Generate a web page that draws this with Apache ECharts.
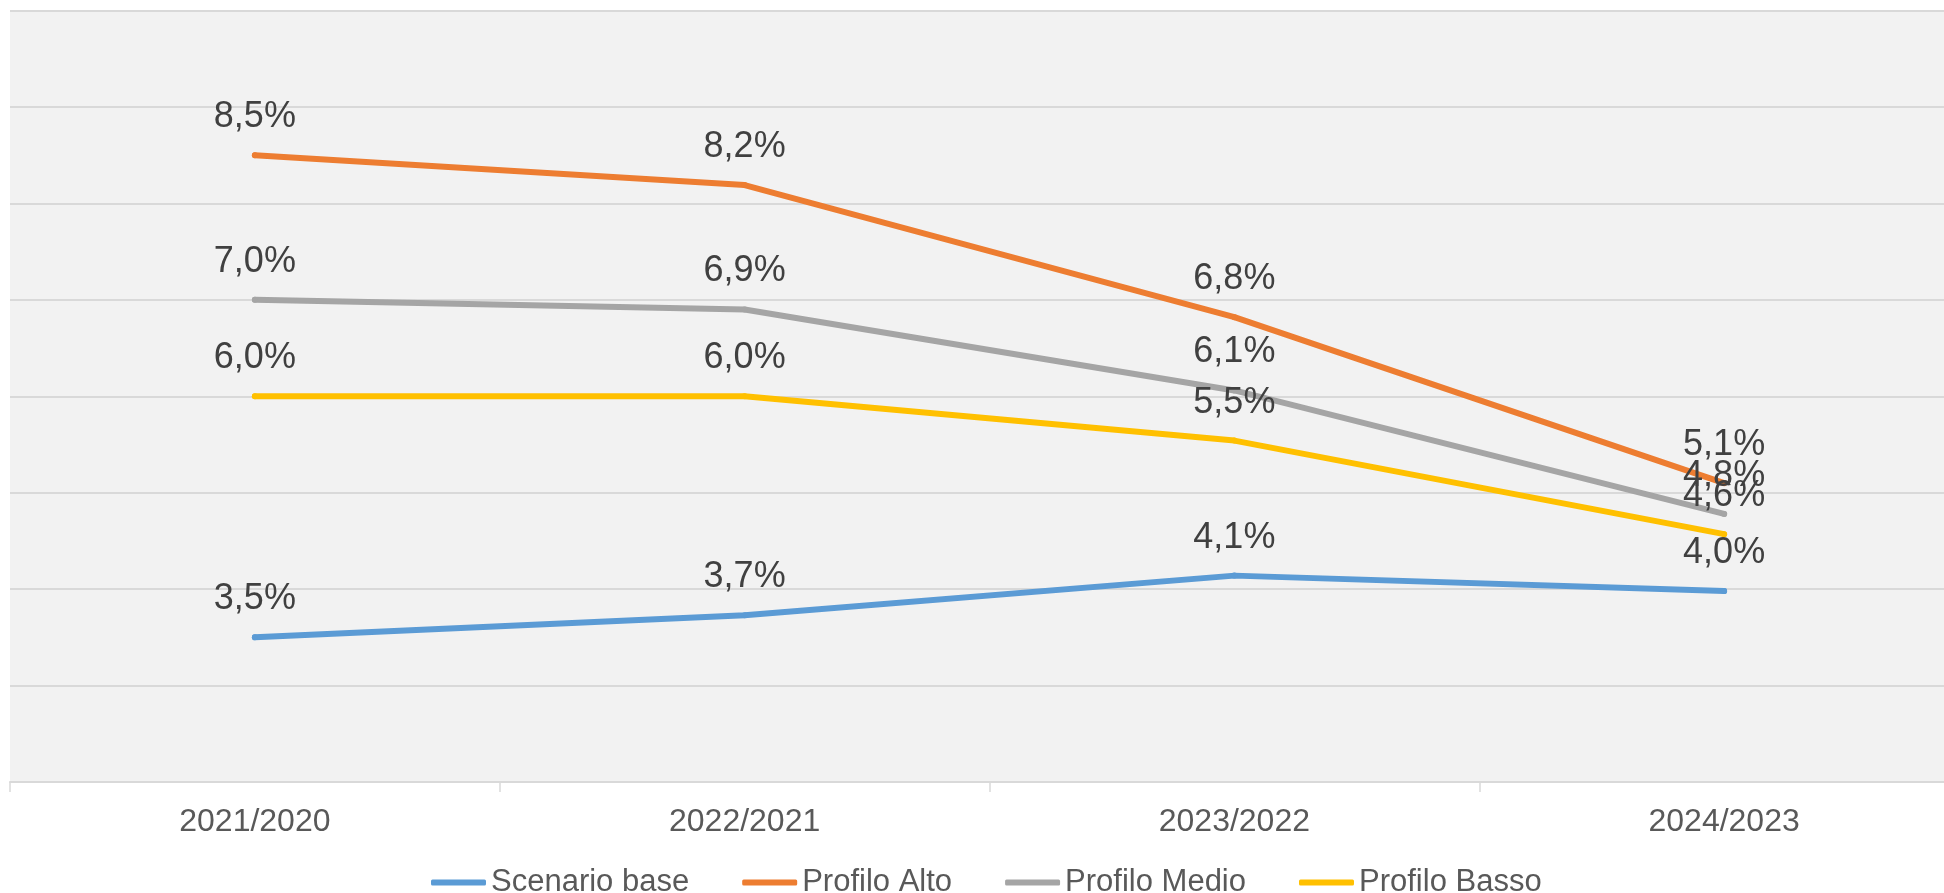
<!DOCTYPE html>
<html>
<head>
<meta charset="utf-8">
<script src="https://cdn.jsdelivr.net/npm/echarts@6/dist/echarts.min.js"></script>
<style>
html,body{margin:0;padding:0;background:#ffffff;}
#chart{width:1944px;height:893px;}
</style>
</head>
<body>
<div id="chart"></div>
<script>
var categories = ['2021/2020', '2022/2021', '2023/2022', '2024/2023'];
var seriesNames = ['Scenario base', 'Profilo Alto', 'Profilo Medio', 'Profilo Basso'];
var scenarioBase = [3.5, 3.73, 4.14, 3.98];
var profiloAlto = [8.5, 8.19, 6.82, 5.1];
var profiloMedio = [7.0, 6.9, 6.06, 4.78];
var profiloBasso = [6.0, 6.0, 5.54, 4.57];
var colors = ['#5b9bd5', '#ed7d31', '#a5a5a5', '#ffc000'];

var allData = [scenarioBase, profiloAlto, profiloMedio, profiloBasso];
var FONT = '"Liberation Sans", Arial, Helvetica, sans-serif';

function fmt(p) {
  return p.value.toFixed(1).replace('.', ',') + '%';
}

var series = seriesNames.map(function (name, i) {
  return {
    name: name,
    type: 'line',
    data: allData[i],
    smooth: false,
    symbol: 'circle',
    symbolSize: 6,
    showSymbol: true,
    itemStyle: { color: colors[i] },
    lineStyle: { color: colors[i], width: 6, cap: 'round', join: 'round' },
    label: {
      show: true,
      position: 'top',
      distance: 17,
      formatter: fmt,
      color: '#404040',
      fontSize: 36,
      fontFamily: FONT
    },
    emphasis: { disabled: true },
    silent: true
  };
});

var chart = echarts.init(document.getElementById('chart'), null, { renderer: 'canvas' });
chart.setOption({
  animation: false,
  backgroundColor: '#ffffff',
  color: colors,
  grid: {
    left: 10,
    top: 10.5,
    width: 1959,
    bottom: 111,
    show: true,
    backgroundColor: '#f2f2f2',
    borderWidth: 0,
    containLabel: false,
    outerBoundsMode: 'none'
  },
  legend: {
    left: 426,
    top: 862,
    itemWidth: 55,
    itemHeight: 6,
    itemGap: 53,
    icon: 'roundRect',
    data: seriesNames,
    textStyle: { color: '#595959', fontSize: 31, fontFamily: FONT }
  },
  xAxis: {
    type: 'category',
    data: categories,
    boundaryGap: true,
    axisLine: { show: true, lineStyle: { color: '#d9d9d9', width: 2 } },
    axisTick: { show: true, length: 10, lineStyle: { color: '#d9d9d9', width: 1.5 } },
    axisLabel: { color: '#595959', fontSize: 32, fontFamily: FONT, margin: 24 }
  },
  yAxis: {
    type: 'value',
    min: 2,
    max: 10,
    interval: 1,
    axisLine: { show: false },
    axisTick: { show: false },
    axisLabel: { show: false },
    splitLine: { show: true, lineStyle: { color: '#d9d9d9', width: 2 } }
  },
  series: series
});
</script>
</body>
</html>
